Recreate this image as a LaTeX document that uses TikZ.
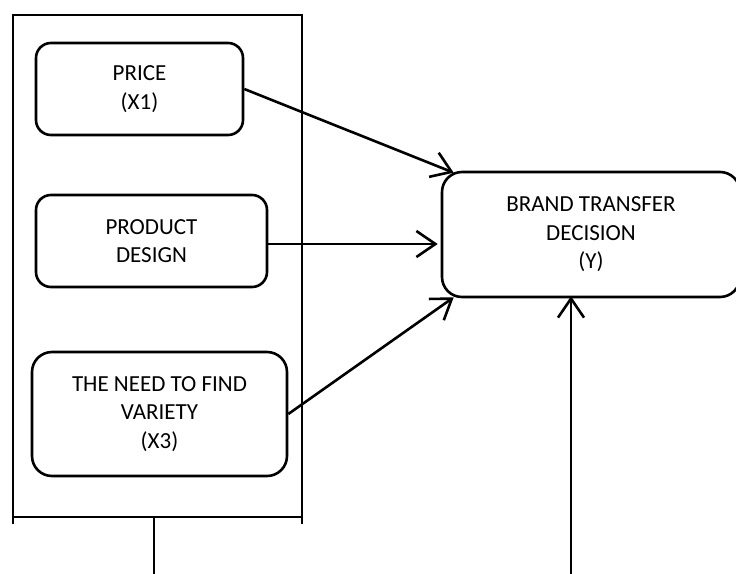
\documentclass[tikz,border=0pt]{standalone}
\usepackage{fontspec}
\setmainfont{Carlito}
\usetikzlibrary{arrows.meta,calc}
\begin{document}
\begin{tikzpicture}[x=1pt,y=-1pt,
  every node/.style={font=\fontsize{23}{28.5}\selectfont},
  box/.style={draw,line width=2.6pt,rounded corners=#1,align=center,inner sep=0pt},
  box/.default=15pt,
  link/.style={line width=2.6pt,-{Straight Barb[length=19pt,width=26pt,line width=2.6pt]}},
  frame/.style={line width=2.6pt}]
\useasboundingbox (0,0) rectangle (736,573);

% group frame around the independent variables
\draw[frame] (13,524) -- (13,15) -- (302,15) -- (302,524);
\draw[frame] (13,517) -- (302,517);
\coordinate (fb) at (154,517);
\coordinate (fout) at (154,580);
\draw[frame] (fb) -- (fout);

% variables
\node[box,minimum width=207pt,minimum height=92pt] (price) at (139.5,89) {PRICE\\(X1)};
\node[box,minimum width=231pt,minimum height=92pt] (design) at (151.5,241) {PRODUCT\\DESIGN};
\node[box=20pt,minimum width=255pt,minimum height=124pt] (variety) at (159.5,414) {THE NEED TO FIND\\VARIETY\\(X3)};
\node[box=20pt,minimum width=298pt,minimum height=125pt] (brand) at (591,234.5) {BRAND TRANSFER\\DECISION\\(Y)};

% connectors
\draw[link] (price.east) -- ([xshift=13pt,yshift=-2pt]brand.north west);
\draw[link] ([yshift=-3pt]design.east) -- ([yshift=-3pt,xshift=-3pt]design.east -| brand.west);
\draw[link] (variety.east) -- ([xshift=13pt,yshift=1pt]brand.south west);
\coordinate (yin) at (571,580);
\draw[link] (yin) -- ([yshift=2pt]yin |- brand.south);
\end{tikzpicture}
\end{document}
